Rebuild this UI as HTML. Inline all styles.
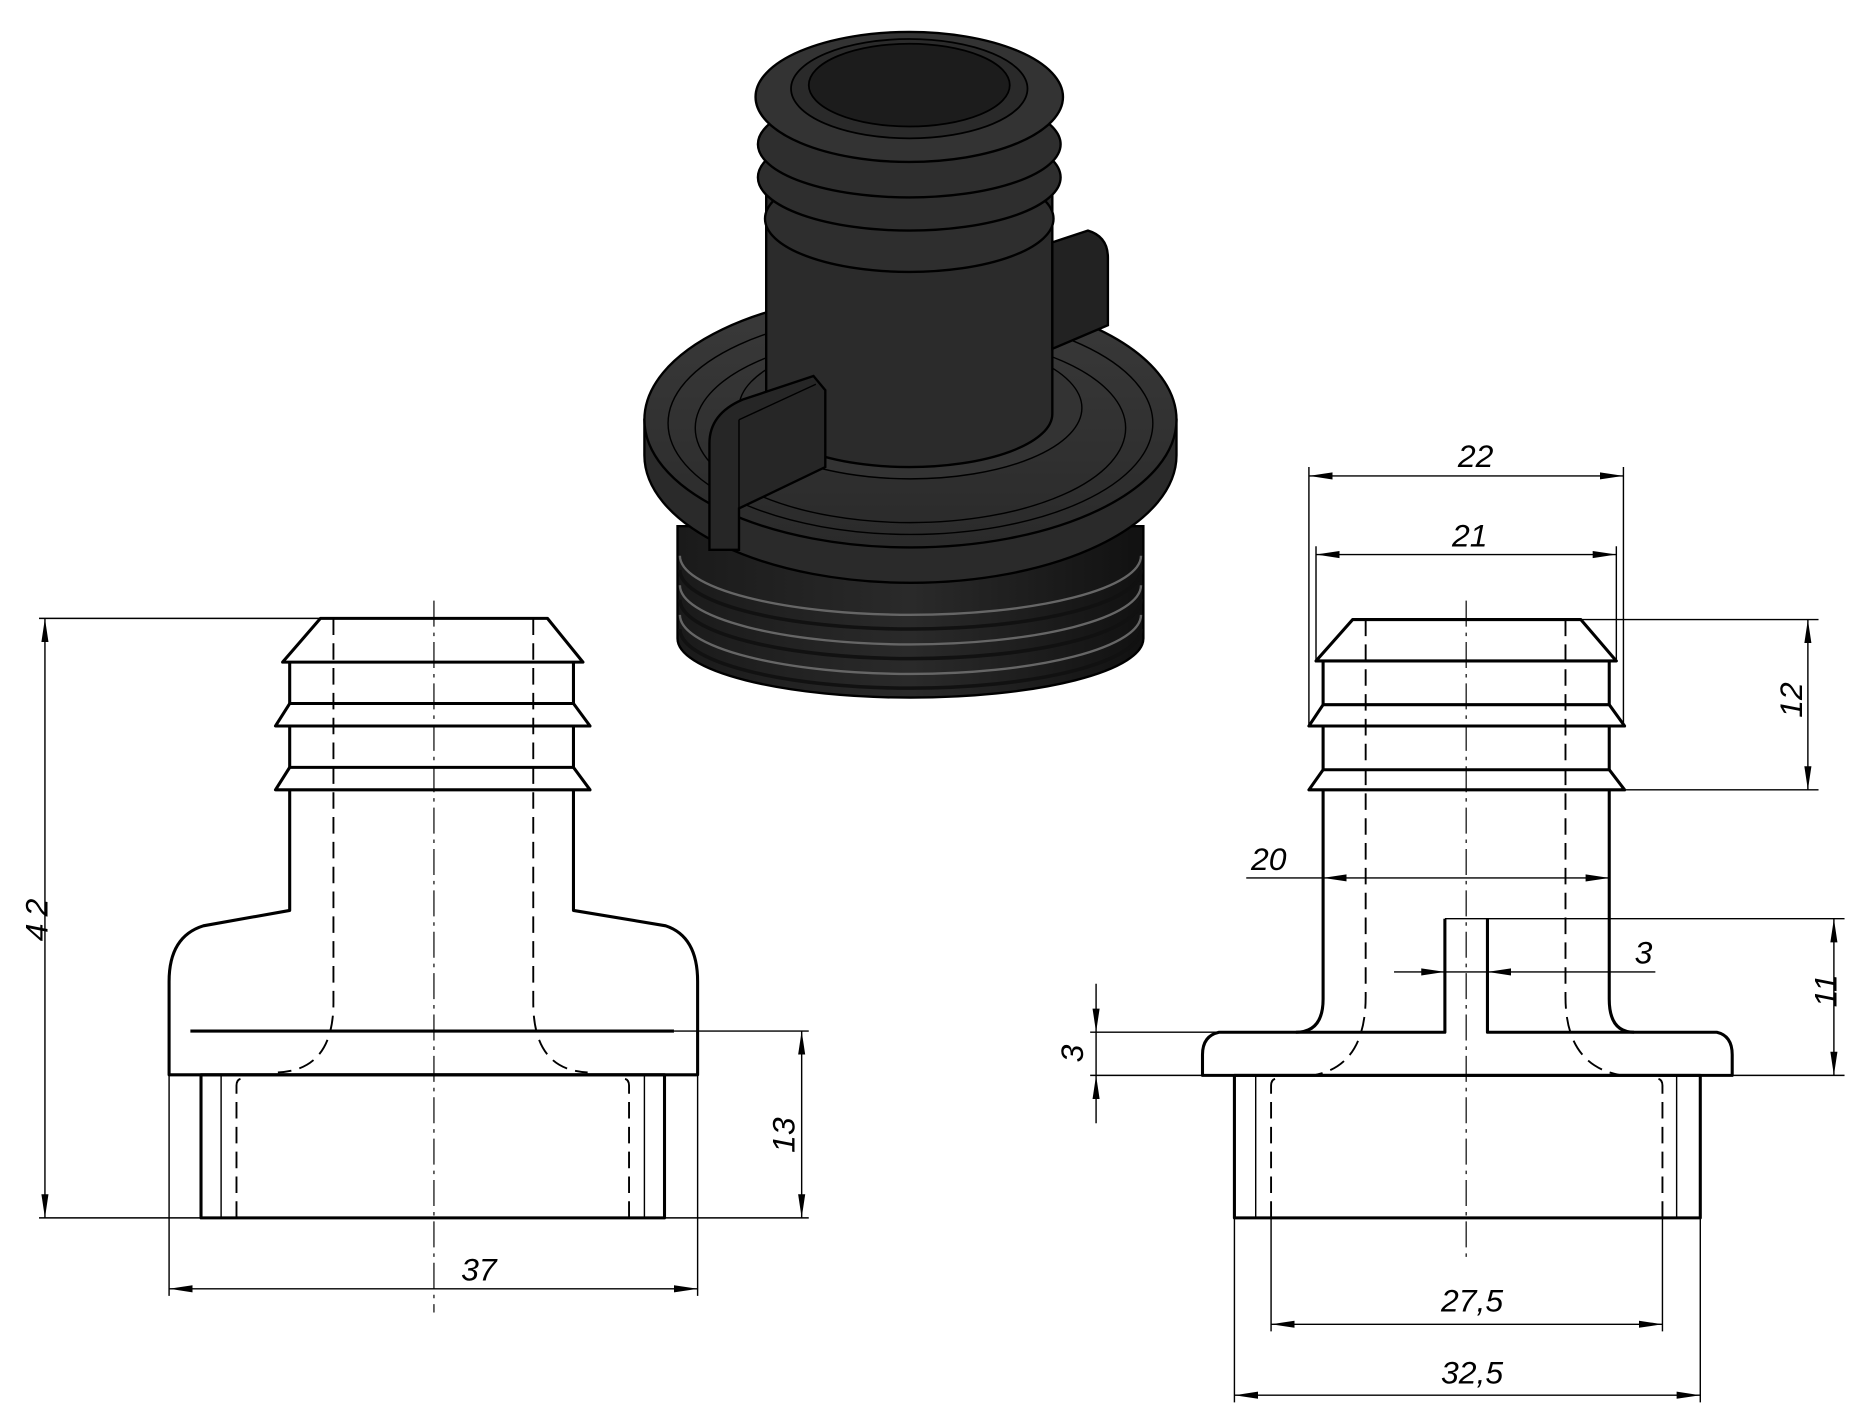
<!DOCTYPE html>
<html><head><meta charset="utf-8"><style>
html,body{margin:0;padding:0;background:#fff}
svg{display:block}
text{font-family:"Liberation Sans",sans-serif;font-style:italic;font-size:27px;fill:#000}
.k{stroke:#000;stroke-width:2.6;fill:none;stroke-linejoin:round}
.t{stroke:#000;stroke-width:1.2;fill:none}
.d{stroke:#000;stroke-width:1.6;fill:none;stroke-dasharray:14 7}
.c{stroke:#000;stroke-width:1;fill:none;stroke-dasharray:22 5 3 5}
</style></head><body>
<svg width="1854" height="1410" viewBox="0 0 1568 1192.5" xmlns="http://www.w3.org/2000/svg">
<defs>
<marker id="a" viewBox="0 0 20 8" refX="20" refY="4" markerWidth="20" markerHeight="8" orient="auto-start-reverse" markerUnits="userSpaceOnUse"><path d="M0,1 L20,4 L0,7 Z" fill="#000"/></marker>
<linearGradient id="g1" x1="0" x2="1"><stop offset="0" stop-color="#1a1a1a"/><stop offset=".5" stop-color="#2a2a2a"/><stop offset="1" stop-color="#111"/></linearGradient>
<linearGradient id="g2" x1="0" x2="0" y1="0" y2="1"><stop offset="0" stop-color="#3a3a3a"/><stop offset="1" stop-color="#2a2a2a"/></linearGradient>
</defs>

<!-- 3D view -->
<g stroke="#000" stroke-width="2">
<path d="M573,445 L573,540 A197,50 0 0 0 967,540 L967,445 Z" fill="url(#g1)"/>
<g fill="none" stroke="#666" stroke-width="2">
<path d="M575,470 A195,50 0 0 0 965,470"/><path d="M575,495 A195,50 0 0 0 965,495"/><path d="M575,520 A195,50 0 0 0 965,520"/>
</g>
<g fill="none" stroke="#111" stroke-width="3">
<path d="M575,482 A195,50 0 0 0 965,482"/><path d="M575,507 A195,50 0 0 0 965,507"/><path d="M575,532 A195,50 0 0 0 965,532"/>
</g>
<path d="M545,355 L545,385 A225,108 0 0 0 995,385 L995,355 Z" fill="#2a2a2a"/>
<ellipse cx="770" cy="355" rx="225" ry="108" fill="url(#g2)"/>
<ellipse cx="770" cy="358" rx="205" ry="94" fill="none" stroke-width="1.2"/>
<ellipse cx="770" cy="362" rx="182" ry="80" fill="none" stroke-width="1.2"/>
<ellipse cx="770" cy="345" rx="145" ry="60" fill="#333" stroke-width="1.2"/>
<path d="M648,110 L648,350 A121,45 0 0 0 890,350 L890,110 Z" fill="#2b2b2b"/>
<path d="M890,215 L890,295 L937,275 L937,218 Q937,200 920,195 L890,205 Z" fill="#222"/>
<path d="M600,375 Q600,350 628,338 L688,318 L698,330 L698,395 L625,430 L625,465 L600,465 Z" fill="#262626"/>
<path d="M625,355 L690,325 M625,355 L625,430" fill="none" stroke-width="1.2"/>
<ellipse cx="769" cy="185" rx="122" ry="45" fill="#2e2e2e"/>
<ellipse cx="769" cy="150" rx="128" ry="45" fill="#2e2e2e"/>
<ellipse cx="769" cy="122" rx="128" ry="45" fill="#2e2e2e"/>
<ellipse cx="769" cy="82" rx="130" ry="55" fill="#333"/>
<ellipse cx="769" cy="75" rx="100" ry="42" fill="#2a2a2a" stroke-width="1.5"/>
<ellipse cx="769" cy="72" rx="85" ry="35" fill="#1c1c1c" stroke-width="1.5"/>
</g>

<!-- LEFT VIEW -->
<line class="c" x1="367" y1="508" x2="367" y2="1110"/>
<path class="k" d="M271,523 L463,523 L493,560 L239,560 Z"/>
<path class="k" d="M245,560 L245,595 L485,595 L485,560"/>
<path class="k" d="M245,595 L233,614 L499,614 L485,595"/>
<path class="k" d="M245,614 L245,649 L485,649 L485,614"/>
<path class="k" d="M245,649 L233,668 L499,668 L485,649"/>
<path class="k" d="M245,668 L245,770 L172,783 Q143,792 143,830 L143,909 L590,909 L590,830 Q590,792 563,783 L485,770 L485,668"/>
<path class="d" d="M282,523 L282,848 Q282,905 235,907"/>
<path class="d" d="M451,523 L451,848 Q451,905 497,907"/>
<line class="k" x1="161" y1="872" x2="570" y2="872"/>
<line class="t" x1="570" y1="872" x2="684" y2="872"/>
<rect class="k" x="170" y="909" width="392" height="121"/>
<line class="t" x1="187" y1="909" x2="187" y2="1030"/>
<line class="t" x1="545" y1="909" x2="545" y2="1030"/>
<path class="d" d="M200,1030 L200,918 Q200,912 206,912"/>
<path class="d" d="M532,1030 L532,918 Q532,912 526,912"/>
<!-- dims left -->
<line class="t" x1="33" y1="523" x2="271" y2="523"/>
<line class="t" x1="33" y1="1030" x2="170" y2="1030"/>
<line class="t" x1="38" y1="523" x2="38" y2="1030" marker-start="url(#a)" marker-end="url(#a)"/>
<text transform="translate(40,775) rotate(-90)" text-anchor="middle" letter-spacing="6">42</text>
<line class="t" x1="562" y1="1030" x2="684" y2="1030"/>
<line class="t" x1="678" y1="872" x2="678" y2="1030" marker-start="url(#a)" marker-end="url(#a)"/>
<text transform="translate(672,960) rotate(-90)" text-anchor="middle">13</text>
<line class="t" x1="143" y1="909" x2="143" y2="1096"/>
<line class="t" x1="590" y1="909" x2="590" y2="1096"/>
<line class="t" x1="143" y1="1090" x2="590" y2="1090" marker-start="url(#a)" marker-end="url(#a)"/>
<text x="405" y="1083" text-anchor="middle">37</text>

<!-- RIGHT VIEW -->
<line class="c" x1="1240" y1="508" x2="1240" y2="1063"/>
<path class="k" d="M1144,524 L1337,524 L1367,559 L1113,559 Z"/>
<path class="k" d="M1119,559 L1119,596 L1361,596 L1361,559"/>
<path class="k" d="M1119,596 L1107,614 L1374,614 L1361,596"/>
<path class="k" d="M1119,614 L1119,651 L1361,651 L1361,614"/>
<path class="k" d="M1119,651 L1107,668 L1374,668 L1361,651"/>
<path class="k" d="M1119,668 L1119,845 Q1119,873 1096,873 L1031,873 Q1017,876 1017,892 L1017,909.5 L1465,909.5 L1465,892 Q1465,876 1452,873 L1382,873 Q1361,873 1361,845 L1361,668"/>
<path class="k" d="M1096,873 L1222,873 L1222,777 M1258,777 L1258,873 L1382,873"/>
<path class="d" d="M1155,524 L1155,843 Q1155,900 1113,909"/>
<path class="d" d="M1324,524 L1324,843 Q1324,900 1369,909"/>
<rect class="k" x="1044" y="909.5" width="394" height="120.5"/>
<line class="t" x1="1062" y1="909.5" x2="1062" y2="1030"/>
<line class="t" x1="1418" y1="909.5" x2="1418" y2="1030"/>
<path class="d" d="M1075,1030 L1075,918 Q1075,912 1081,912"/>
<path class="d" d="M1406,1030 L1406,918 Q1406,912 1400,912"/>
<!-- dims right -->
<line class="t" x1="1107" y1="395" x2="1107" y2="614"/>
<line class="t" x1="1373" y1="395" x2="1373" y2="614"/>
<line class="t" x1="1107" y1="402.5" x2="1373" y2="402.5" marker-start="url(#a)" marker-end="url(#a)"/>
<text x="1248" y="395" text-anchor="middle">22</text>
<line class="t" x1="1113" y1="462" x2="1113" y2="559"/>
<line class="t" x1="1367" y1="462" x2="1367" y2="559"/>
<line class="t" x1="1113" y1="469" x2="1367" y2="469" marker-start="url(#a)" marker-end="url(#a)"/>
<text x="1243" y="462" text-anchor="middle">21</text>
<line class="t" x1="1337" y1="524" x2="1538" y2="524"/>
<line class="t" x1="1374" y1="668" x2="1538" y2="668"/>
<line class="t" x1="1529" y1="524" x2="1529" y2="668" marker-start="url(#a)" marker-end="url(#a)"/>
<text transform="translate(1524,592) rotate(-90)" text-anchor="middle">12</text>
<line class="t" x1="1054" y1="742.5" x2="1119" y2="742.5"/>
<line class="t" x1="1119" y1="742.5" x2="1361" y2="742.5" marker-start="url(#a)" marker-end="url(#a)"/>
<text x="1073" y="736" text-anchor="middle">20</text>
<line class="t" x1="1179" y1="822" x2="1222" y2="822" marker-end="url(#a)"/>
<line class="t" x1="1400" y1="822" x2="1258" y2="822" marker-end="url(#a)"/>
<line class="t" x1="1222" y1="822" x2="1258" y2="822"/>
<text x="1390" y="815" text-anchor="middle">3</text>
<line class="t" x1="1222" y1="777" x2="1560" y2="777"/>
<line class="t" x1="1465" y1="909.5" x2="1560" y2="909.5"/>
<line class="t" x1="1551" y1="777" x2="1551" y2="909.5" marker-start="url(#a)" marker-end="url(#a)"/>
<text transform="translate(1553,838) rotate(-90)" text-anchor="middle">11</text>
<line class="t" x1="922" y1="873" x2="1031" y2="873"/>
<line class="t" x1="922" y1="909.5" x2="1017" y2="909.5"/>
<line class="t" x1="927" y1="832" x2="927" y2="873" marker-end="url(#a)"/>
<line class="t" x1="927" y1="950" x2="927" y2="909.5" marker-end="url(#a)"/>
<line class="t" x1="927" y1="873" x2="927" y2="909.5"/>
<text transform="translate(916,891) rotate(-90)" text-anchor="middle">3</text>
<line class="t" x1="1075" y1="1030" x2="1075" y2="1126"/>
<line class="t" x1="1406" y1="1030" x2="1406" y2="1126"/>
<line class="t" x1="1075" y1="1120" x2="1406" y2="1120" marker-start="url(#a)" marker-end="url(#a)"/>
<text x="1245" y="1109" text-anchor="middle">27,5</text>
<line class="t" x1="1044" y1="1030" x2="1044" y2="1186"/>
<line class="t" x1="1438" y1="1030" x2="1438" y2="1186"/>
<line class="t" x1="1044" y1="1180" x2="1438" y2="1180" marker-start="url(#a)" marker-end="url(#a)"/>
<text x="1245" y="1170" text-anchor="middle">32,5</text>
</svg>
</body></html>
